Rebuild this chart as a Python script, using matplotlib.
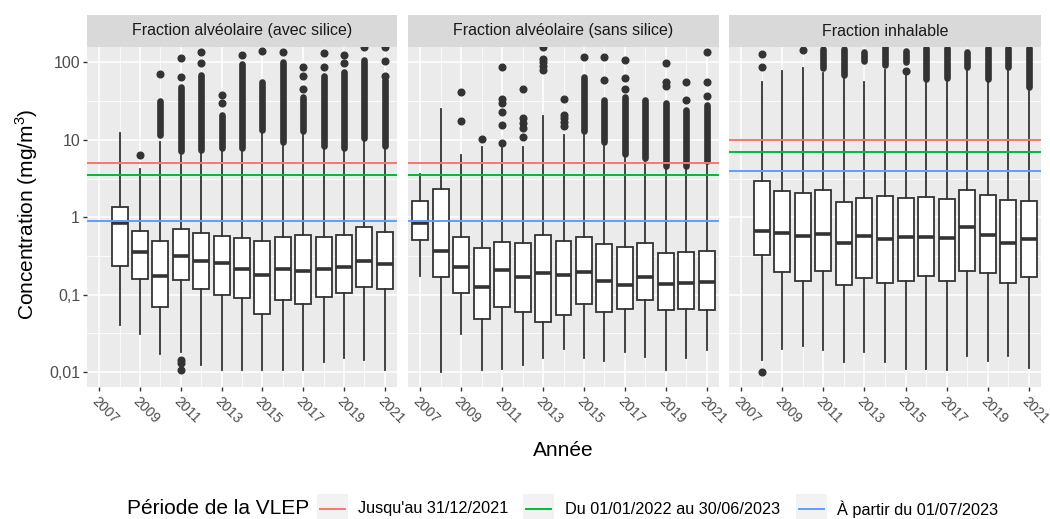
import matplotlib
matplotlib.use('Agg')
import matplotlib.pyplot as plt
from matplotlib.patches import Rectangle
from matplotlib.lines import Line2D

plt.rcParams['font.family'] = ['Liberation Sans', 'DejaVu Sans']
plt.rcParams['mathtext.fontset'] = 'custom'
plt.rcParams['mathtext.rm'] = 'Liberation Sans'

# ---- data ----
panel_titles = ['Fraction alvéolaire (avec silice)',
                'Fraction alvéolaire (sans silice)',
                'Fraction inhalable']
year_ticks = [2007, 2009, 2011, 2013, 2015, 2017, 2019, 2021]

# Fraction alvéolaire (avec silice), 2008-2021
years_p1 = [2008, 2009, 2010, 2011, 2012, 2013, 2014, 2015, 2016, 2017, 2018, 2019, 2020, 2021]
q1_p1 = [0.238, 0.158, 0.069, 0.155, 0.12, 0.1, 0.091, 0.056, 0.085, 0.076, 0.094, 0.104, 0.125, 0.12]
med_p1 = [0.84, 0.353, 0.175, 0.32, 0.275, 0.255, 0.217, 0.178, 0.213, 0.205, 0.217, 0.23, 0.275, 0.247]
q3_p1 = [1.37, 0.666, 0.5, 0.70, 0.63, 0.574, 0.535, 0.50, 0.56, 0.59, 0.56, 0.59, 0.74, 0.65]
wlo_p1 = [0.041, 0.031, 0.017, 0.018, 0.0124, 0.0107, 0.0107, 0.0107, 0.0107, 0.0105, 0.0134, 0.015, 0.0144, 0.0107]
whi_p1 = [12.2, 4.2, 9.5, 6.7, 7.0, 7.4, 7.4, 12.8, 8.9, 12.2, 7.8, 7.4, 10.0, 7.8]
dense_lo_p1 = [None, None, 11.5, 7.2, 7.5, 7.9, 7.9, 13.5, 9.5, 13.0, 8.3, 7.9, 10.7, 8.3]
dense_hi_p1 = [None, None, 32, 48, 69, 21, 97, 56, 100, 36, 66, 76, 108, 59]
fliers_p1 = [[], [6.3], [72], [64, 113, 0.0145, 0.013, 0.0107], [98, 135], [29.7, 38], [125],
             [142], [135], [46, 67, 88], [88, 131], [98, 125], [160], [66, 103, 160]]

# Fraction alvéolaire (sans silice), 2007-2021
years_p2 = [2007, 2008, 2009, 2010, 2011, 2012, 2013, 2014, 2015, 2016, 2017, 2018, 2019, 2020, 2021]
q1_p2 = [0.51, 0.171, 0.104, 0.049, 0.07, 0.06, 0.045, 0.055, 0.075, 0.059, 0.065, 0.085, 0.0635, 0.065, 0.0635]
med_p2 = [0.84, 0.37, 0.23, 0.125, 0.209, 0.171, 0.193, 0.18, 0.197, 0.150, 0.134, 0.168, 0.136, 0.14, 0.145]
q3_p2 = [1.63, 2.3, 0.56, 0.40, 0.48, 0.46, 0.59, 0.49, 0.56, 0.45, 0.41, 0.46, 0.35, 0.36, 0.37]
wlo_p2 = [0.175, 0.0101, 0.031, 0.0107, 0.011, 0.0122, 0.015, 0.02, 0.015, 0.0137, 0.018, 0.0155, 0.0107, 0.015, 0.0193]
whi_p2 = [3.63, 24.9, 6.3, 8.2, 7.8, 8.2, 20.4, 11.6, 11.6, 9.0, 6.1, 5.5, 4.3, 4.3, 5.0]
dense_lo_p2 = [None, None, None, None, None, None, None, None, 13, 9.5, 6.5, 5.8, 4.6, 4.6, 5.3]
dense_hi_p2 = [None, None, None, None, None, None, None, None, 65, 33, 36, 33, 30, 24, 28]
fliers_p2 = [[], [], [17.6, 41], [10.3], [9.0, 15.4, 23, 29.7, 34, 88], [10.8, 14.1, 16.4, 19, 46],
             [80, 90, 100, 110, 157], [14.9, 17, 19, 21, 34], [119], [59.5, 119], [46, 63, 108],
             [], [49, 56, 98], [33, 56], [37, 56, 138]]

# Fraction inhalable, 2008-2021
years_p3 = [2008, 2009, 2010, 2011, 2012, 2013, 2014, 2015, 2016, 2017, 2018, 2019, 2020, 2021]
q1_p3 = [0.33, 0.195, 0.148, 0.203, 0.134, 0.163, 0.14, 0.148, 0.176, 0.152, 0.2, 0.19, 0.14, 0.171]
med_p3 = [0.67, 0.63, 0.58, 0.60, 0.46, 0.58, 0.52, 0.557, 0.56, 0.54, 0.74, 0.59, 0.46, 0.52]
q3_p3 = [2.95, 2.2, 2.08, 2.25, 1.58, 1.76, 1.89, 1.76, 1.81, 1.73, 2.25, 1.92, 1.67, 1.63]
wlo_p3 = [0.0143, 0.02, 0.022, 0.0193, 0.0133, 0.0184, 0.0134, 0.011, 0.011, 0.0107, 0.0163, 0.0139, 0.0159, 0.0112]
whi_p3 = [56.6, 78, 86, 74, 62.5, 56.6, 80, 69, 56.6, 59, 84, 59, 84, 44]
dense_lo_p3 = [None, None, None, 84, 69, 103, 93, 100, 62, 63, 88, 62, 88, 48]
dense_hi_p3 = [None, None, None, 150, 150, 138, 160, 140, 155, 155, 138, 155, 155, 153]
fliers_p3 = [[88, 128, 0.01], [], [145], [], [], [], [], [78], [], [], [], [], [], []]

# VLEP limits per panel
vlep_labels = ["Jusqu'au 31/12/2021", 'Du 01/01/2022 au 30/06/2023', 'À partir du 01/07/2023']
vlep_colors = ['#F8766D', '#00BA38', '#619CFF']
vlep_p1 = [5, 3.5, 0.9]
vlep_p2 = [5, 3.5, 0.9]
vlep_p3 = [10, 7, 4]

panels = [
    (years_p1, q1_p1, med_p1, q3_p1, wlo_p1, whi_p1, dense_lo_p1, dense_hi_p1, fliers_p1, vlep_p1),
    (years_p2, q1_p2, med_p2, q3_p2, wlo_p2, whi_p2, dense_lo_p2, dense_hi_p2, fliers_p2, vlep_p2),
    (years_p3, q1_p3, med_p3, q3_p3, wlo_p3, whi_p3, dense_lo_p3, dense_hi_p3, fliers_p3, vlep_p3),
]

# ---- layout (pixels of the 1050x519 output) ----
W, H = 1050, 519
fig = plt.figure(figsize=(W / 100, H / 100), dpi=100)

def fx(px):
    return px / W

def fy(py):
    return 1 - py / H

lefts = [87, 408, 729]
rights = [397, 719, 1041]
top, bottom = 47, 387
strip_h = 32
dark = '#333333'

for i, (years, q1, med, q3, wlo, whi, dlo, dhi, fl, vlep) in enumerate(panels):
    ax = fig.add_axes([fx(lefts[i]), fy(bottom), (rights[i] - lefts[i]) / W, (bottom - top) / H])
    ax.set_facecolor('#EBEBEB')
    ax.set_yscale('log')
    ax.set_ylim(10 ** -2.193, 10 ** 2.2)
    ax.set_xlim(2006.4, 2021.6)
    for s in ax.spines.values():
        s.set_visible(False)

    # grid
    ax.set_yticks([0.01, 0.1, 1, 10, 100], ['0,01', '0,1', '1', '10', '100'])
    ax.set_yticks([0.0316, 0.316, 3.16, 31.6], minor=True)
    ax.set_xticks(year_ticks, [str(y) for y in year_ticks])
    ax.set_xticks([2008, 2010, 2012, 2014, 2016, 2018, 2020], minor=True)
    ax.grid(which='major', color='white', linewidth=1.1, zorder=0)
    ax.grid(which='minor', color='white', linewidth=0.55, zorder=0)
    ax.set_axisbelow(True)
    ax.tick_params(which='minor', length=0)
    ax.tick_params(axis='x', which='major', length=3, width=1, color=dark,
                   labelsize=10.2, labelcolor='#4D4D4D', pad=2)
    if i == 0:
        ax.tick_params(axis='y', which='major', length=3, width=1, color=dark,
                       labelsize=11.5, labelcolor='#4D4D4D', pad=2)
    else:
        ax.tick_params(axis='y', which='major', length=0, labelleft=False)
    for lbl in ax.get_xticklabels():
        lbl.set_rotation(-45)
        lbl.set_ha('left')
        lbl.set_va('top')
        lbl.set_rotation_mode('anchor')

    # boxplots
    stats = []
    for k in range(len(years)):
        stats.append(dict(q1=q1[k], med=med[k], q3=q3[k], whislo=wlo[k], whishi=whi[k], fliers=fl[k]))
    ax.bxp(stats, positions=years, widths=0.78, patch_artist=True, showcaps=False,
           boxprops=dict(facecolor='white', edgecolor=dark, linewidth=1.3),
           medianprops=dict(color=dark, linewidth=2.6, solid_capstyle='butt'),
           whiskerprops=dict(color=dark, linewidth=1.3),
           flierprops=dict(marker='o', markerfacecolor=dark, markeredgecolor=dark, markersize=4.8),
           manage_ticks=False, zorder=3)

    # dense runs of outliers
    dx = [y for y, lo in zip(years, dlo) if lo is not None]
    dl = [lo for lo in dlo if lo is not None]
    dh = [hi for hi in dhi if hi is not None]
    ax.vlines(dx, dl, dh, colors=dark, linewidth=4.8, capstyle='round', zorder=3)

    # VLEP lines
    for val, col in zip(vlep, vlep_colors):
        ax.axhline(val, color=col, linewidth=1.4, zorder=4)

    # facet strip
    ax.add_patch(Rectangle((0, 1), 1, strip_h / (bottom - top), transform=ax.transAxes,
                           clip_on=False, facecolor='#D9D9D9', edgecolor='none'))
    ax.text(0.5, 1 + strip_h / 2 / (bottom - top), panel_titles[i], transform=ax.transAxes,
            ha='center', va='center', fontsize=11.5, color='#1A1A1A')

# axis titles
fig.text(fx(27), fy(214), 'Concentration (mg/m$^3$)', rotation=90, ha='center', va='center', fontsize=15)
fig.text(fx(563), fy(450), 'Année', ha='center', va='center', fontsize=15)

# legend
leg_y = 509
fig.text(fx(127), fy(leg_y), 'Période de la VLEP', ha='left', va='center', fontsize=15)
key_x = [317, 523, 796]
lab_x = [358, 565, 837]
for kx, lx, col, lab in zip(key_x, lab_x, vlep_colors, vlep_labels):
    fig.add_artist(Rectangle((fx(kx), fy(leg_y + 15.5)), 31 / W, 31 / H, transform=fig.transFigure,
                             facecolor='#F2F2F2', edgecolor='none'))
    fig.add_artist(Line2D([fx(kx + 3), fx(kx + 28)], [fy(leg_y), fy(leg_y)], transform=fig.transFigure,
                          color=col, linewidth=1.4))
    fig.text(fx(lx), fy(leg_y), lab, ha='left', va='center', fontsize=11.7)

fig.savefig('out.png', dpi=100)
